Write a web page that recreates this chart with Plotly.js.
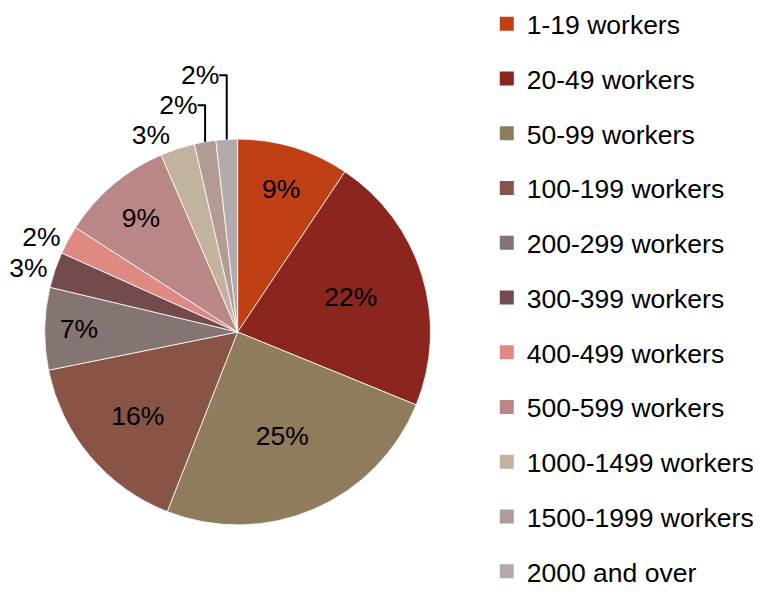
<!DOCTYPE html>
<html><head><meta charset="utf-8">
<script src="https://cdn.plot.ly/plotly-3.0.1.min.js"></script>
<style>html,body{margin:0;padding:0;background:#fff}</style>
</head><body>
<div id="chart" style="width:759px;height:593px"></div>
<script>
const categories = ["1-19 workers","20-49 workers","50-99 workers","100-199 workers","200-299 workers","300-399 workers","400-499 workers","500-599 workers","1000-1499 workers","1500-1999 workers","2000 and over"];
const shares = [9.4, 21.8, 24.8, 15.9, 6.9, 3.0, 2.4, 9.4, 2.9, 1.8, 1.8];
const colors = ["#BE4014","#8B261E","#8F7C5C","#875446","#847472","#734B4D","#DE8A82","#B98886","#C1B39E","#B49A94","#B4A9AB"];
const textPos = ["inside","inside","inside","inside","inside","outside","outside","inside","outside","outside","outside"];

const FONT = "Liberation Sans, Arial, sans-serif";
const traces = [{
  type: "pie",
  labels: categories,
  values: shares,
  sort: false,
  direction: "clockwise",
  rotation: 0,
  marker: {colors: colors, line: {color: "#ffffff", width: 0.8}},
  texttemplate: "%{percent:.0%}",
  textposition: textPos,
  insidetextorientation: "horizontal",
  textfont: {family: FONT, size: 26.5, color: "#000000"},
  outsidetextfont: {family: FONT, size: 26.5, color: "#000000"},
  hoverinfo: "label+percent",
  showlegend: false,
  domain: {x: [0.0593, 0.571], y: [0.1147, 0.7656]}
}];
categories.forEach((c, i) => {
  traces.push({
    type: "scatter", mode: "markers", x: [null], y: [null],
    name: c, legendgroup: "g" + i,
    marker: {symbol: "square", size: 14, color: colors[i]},
    hoverinfo: "skip"
  });
});

const layout = {
  width: 759, height: 593,
  margin: {l: 0, r: 0, t: 0, b: 0},
  paper_bgcolor: "#ffffff", plot_bgcolor: "#ffffff",
  xaxis: {visible: false, domain: [0.99, 1]},
  yaxis: {visible: false, domain: [0.99, 1]},
  showlegend: true,
  legend: {
    x: 0.6456, xanchor: "left", y: 1.0, yanchor: "top",
    font: {family: FONT, size: 26.5, color: "#000000"},
    tracegroupgap: 17.3, itemwidth: 30, maxheight: 1000,
    bgcolor: "rgba(0,0,0,0)"
  }
};
Plotly.newPlot("chart", traces, layout, {staticPlot: true, displayModeBar: false});
</script>
</body></html>
